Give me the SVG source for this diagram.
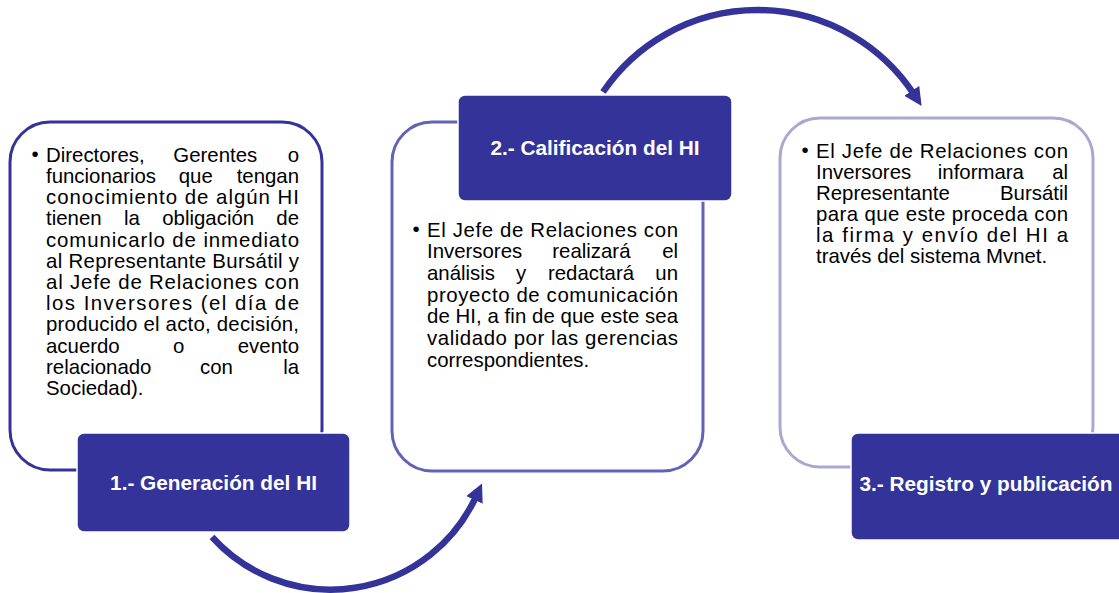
<svg xmlns="http://www.w3.org/2000/svg" width="1119" height="593" viewBox="0 0 1119 593">
<defs>
<style>
.b{font-family:"Liberation Sans",Arial,sans-serif;font-size:20.4px;fill:#000}
.m{text-anchor:middle}
.e{text-anchor:end}
.h{font-family:"Liberation Sans",Arial,sans-serif;font-size:20.8px;font-weight:bold;fill:#fff;text-anchor:middle}
.lab{fill:#333399;stroke:#fff;stroke-width:1.5}
.arc{fill:none;stroke:#333399;stroke-width:6.5}
</style>
<marker id="ah" viewBox="0 0 10 10" refX="2" refY="5" markerWidth="18" markerHeight="18" markerUnits="userSpaceOnUse" orient="auto">
<path d="M0,0 L10,5 L0,10 z" fill="#333399"/>
</marker>
</defs>
<rect width="1119" height="593" fill="#fff"/>

<g id="connectors">
<path class="arc" d="M212,537 A160,160 0 0 0 476,496.6" marker-end="url(#ah)"/>
<path class="arc" d="M603,92 A187,187 0 0 1 913.7,93.9" marker-end="url(#ah)"/>
</g>

<g id="node1">
<rect x="10" y="122" width="312" height="348" rx="40" fill="#fff" stroke="#333399" stroke-width="3"/>
<text class="b m" x="35" y="160.7" font-size="14">•</text>
<text class="b" x="46" y="161.7">Directores,</text><text class="b m" x="215.3" y="161.7">Gerentes</text><text class="b e" x="299" y="161.7">o</text>
<text class="b" x="46" y="182.9">funcionarios</text><text class="b m" x="195.8" y="182.9">que</text><text class="b e" x="299" y="182.9">tengan</text>
<text class="b" x="46" y="204.1" textLength="253" lengthAdjust="spacing">conocimiento de algún HI</text>
<text class="b" x="46" y="225.3">tienen</text><text class="b m" x="131.9" y="225.3">la</text><text class="b m" x="208.2" y="225.3">obligación</text><text class="b e" x="299" y="225.3">de</text>
<text class="b" x="46" y="246.5" textLength="253" lengthAdjust="spacing">comunicarlo de inmediato</text>
<text class="b" x="46" y="267.7" textLength="253" lengthAdjust="spacing">al Representante Bursátil y</text>
<text class="b" x="46" y="288.9" textLength="253" lengthAdjust="spacing">al Jefe de Relaciones con</text>
<text class="b" x="46" y="310.1" textLength="253" lengthAdjust="spacing">los Inversores (el día de</text>
<text class="b" x="46" y="331.3" textLength="253" lengthAdjust="spacing">producido el acto, decisión,</text>
<text class="b" x="46" y="352.5">acuerdo</text><text class="b m" x="178.7" y="352.5">o</text><text class="b e" x="299" y="352.5">evento</text>
<text class="b" x="46" y="373.7">relacionado</text><text class="b m" x="216.4" y="373.7">con</text><text class="b e" x="299" y="373.7">la</text>
<text class="b" x="46" y="394.9">Sociedad).</text>
<rect class="lab" x="77" y="433" width="273" height="99" rx="7"/>
<text class="h" x="213.5" y="490">1.- Generación del HI</text>
</g>

<g id="node2">
<rect x="392" y="122" width="311" height="349" rx="40" fill="#fff" stroke="#6262b8" stroke-width="3"/>
<text class="b m" x="416" y="235.7" font-size="14">•</text>
<text class="b" x="427" y="236.7" textLength="251" lengthAdjust="spacing">El Jefe de Relaciones con</text>
<text class="b" x="427" y="258.4">Inversores</text><text class="b m" x="591.4" y="258.4">realizará</text><text class="b e" x="678" y="258.4">el</text>
<text class="b" x="427" y="280">análisis</text><text class="b m" x="521.2" y="280">y</text><text class="b m" x="591" y="280">redactará</text><text class="b e" x="678" y="280">un</text>
<text class="b" x="427" y="301.7" textLength="251" lengthAdjust="spacing">proyecto de comunicación</text>
<text class="b" x="427" y="323.4" textLength="251" lengthAdjust="spacing">de HI, a fin de que este sea</text>
<text class="b" x="427" y="345" textLength="251" lengthAdjust="spacing">validado por las gerencias</text>
<text class="b" x="427" y="366.7">correspondientes.</text>
<rect class="lab" x="458" y="95" width="274" height="106" rx="7"/>
<text class="h" x="595" y="155">2.- Calificación del HI</text>
</g>

<g id="node3">
<rect x="780" y="118" width="313" height="349" rx="40" fill="#fff" stroke="#a9a9cf" stroke-width="3"/>
<text class="b m" x="805" y="157.3" font-size="14">•</text>
<text class="b" x="816" y="158.3" textLength="252" lengthAdjust="spacing">El Jefe de Relaciones con</text>
<text class="b" x="816" y="179.3">Inversores</text><text class="b m" x="980.9" y="179.3">informara</text><text class="b e" x="1068" y="179.3">al</text>
<text class="b" x="816" y="200.3">Representante</text><text class="b e" x="1068" y="200.3">Bursátil</text>
<text class="b" x="816" y="221.3" textLength="252" lengthAdjust="spacing">para que este proceda con</text>
<text class="b" x="816" y="242.3" textLength="252" lengthAdjust="spacing">la firma y envío del HI a</text>
<text class="b" x="816" y="263.3">través del sistema Mvnet.</text>
<rect class="lab" x="851" y="433" width="280" height="107" rx="7"/>
<text class="h" x="986" y="491">3.- Registro y publicación</text>
</g>
</svg>
